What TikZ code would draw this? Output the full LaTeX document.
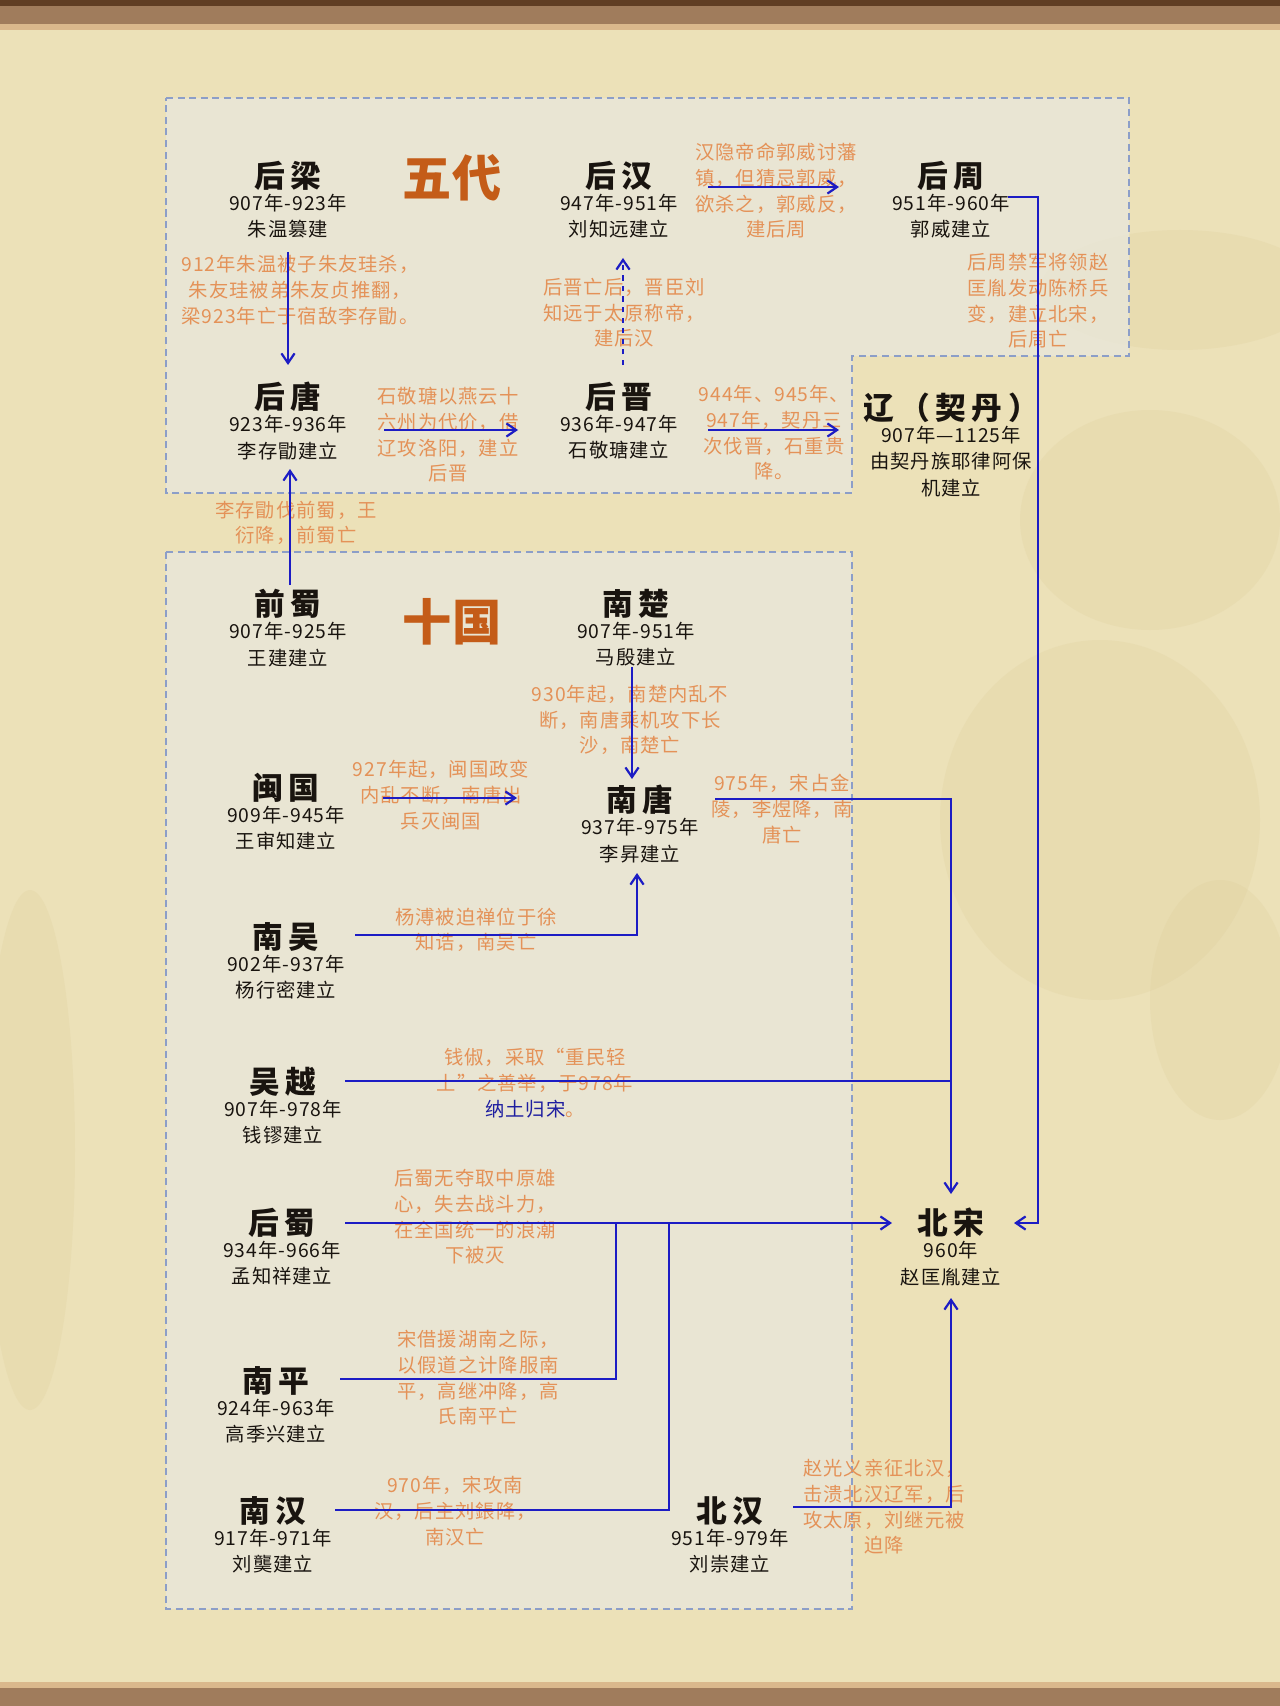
\documentclass[tikz,border=0pt]{standalone}
\usepackage{fontspec}
\setmainfont{Noto Sans CJK SC}
\usetikzlibrary{arrows.meta}
\definecolor{parchment}{RGB}{236,225,184}
\definecolor{parchmentdark}{RGB}{214,196,140}
\definecolor{wood}{RGB}{160,124,92}
\definecolor{wooddark}{RGB}{96,62,36}
\definecolor{woodlight}{RGB}{218,184,140}
\definecolor{panelfill}{RGB}{233,231,218}
\definecolor{dashblue}{RGB}{140,158,200}
\definecolor{titleorange}{RGB}{196,92,24}
\definecolor{noteorange}{RGB}{228,146,88}
\definecolor{inkblack}{RGB}{25,20,15}
\definecolor{lineblue}{RGB}{28,28,196}
\definecolor{songblue}{RGB}{30,30,160}
\tikzset{
  guo/.style={align=center,inner sep=0pt,text=inkblack,
    font=\fontsize{11}{15.2}\selectfont\addfontfeature{LetterSpace=5}},
  biaoti/.style={inner sep=0pt,text=titleorange,font=\fontsize{28}{28}\selectfont\bfseries},
  zhu/.style={align=center,inner sep=0pt,text=noteorange,
    font=\fontsize{11}{14.6}\selectfont\addfontfeature{LetterSpace=5}},
  xian/.style={draw=lineblue,line width=1.25pt},
  jian/.style={xian,-{Straight Barb[length=5.5pt,width=7.5pt]}},
  kuang/.style={draw=dashblue,line width=0.9pt,dash pattern=on 4pt off 2.6pt,
    fill=panelfill,fill opacity=0.8},
  fleck/.style={parchmentdark,opacity=0.16}
}
\newcommand{\ming}[1]{{\fontsize{17.5}{15.2}\selectfont\bfseries\addfontfeature{LetterSpace=18}#1}\\[-2.4pt]}

\begin{document}
\begin{tikzpicture}[x=0.02cm,y=-0.02cm]
  \useasboundingbox (0,0) rectangle (1280,1706);
  % paper and frame
  \fill[parchment] (0,0) rectangle (1280,1706);
  \fill[fleck] (1180,290) ellipse (140 and 60);
  \fill[fleck] (1150,520) ellipse (130 and 110);
  \fill[fleck] (1100,820) ellipse (160 and 180);
  \fill[fleck] (1220,1000) ellipse (70 and 120);
  \fill[fleck] (30,1150) ellipse (45 and 260);
  \fill[wooddark] (0,0) rectangle (1280,6);
  \fill[wood] (0,6) rectangle (1280,24);
  \fill[woodlight] (0,24) rectangle (1280,30);
  \fill[woodlight] (0,1682) rectangle (1280,1688);
  \fill[wood] (0,1688) rectangle (1280,1706);
  % the two panels
  \draw[kuang] (166,98) -- (1129,98) -- (1129,356) -- (852,356) -- (852,493) -- (166,493) -- cycle;
  \draw[kuang] (166,552) rectangle (852,1609);
  \node[biaoti] (wudai) at (452,178) {五代};
  \node[biaoti] (shiguo) at (452,622) {十国};
  % wu dai
  \node[guo] (houliang) at (288,200) {\ming{后梁}907年-923年\\朱温篡建};
  \node[guo] (houhan) at (619,200) {\ming{后汉}947年-951年\\刘知远建立};
  \node[guo] (houzhou) at (951,200) {\ming{后周}951年-960年\\郭威建立};
  \node[guo] (houtang) at (288,421) {\ming{后唐}923年-936年\\李存勖建立};
  \node[guo] (houjin) at (619,421) {\ming{后晋}936年-947年\\石敬瑭建立};
  \node[guo] (liao) at (951,445) {\ming{辽（契丹）}907年—1125年\\由契丹族耶律阿保\\机建立};
  % shi guo
  \node[guo] (qianshu) at (288,628) {\ming{前蜀}907年-925年\\王建建立};
  \node[guo] (nanchu) at (636,628) {\ming{南楚}907年-951年\\马殷建立};
  \node[guo] (minguo) at (286,812) {\ming{闽国}909年-945年\\王审知建立};
  \node[guo] (nantang) at (640,824) {\ming{南唐}937年-975年\\李昇建立};
  \node[guo] (nanwu) at (286,961) {\ming{南吴}902年-937年\\杨行密建立};
  \node[guo] (wuyue) at (283,1106) {\ming{吴越}907年-978年\\钱镠建立};
  \node[guo] (houshu) at (282,1247) {\ming{后蜀}934年-966年\\孟知祥建立};
  \node[guo] (nanping) at (276,1405) {\ming{南平}924年-963年\\高季兴建立};
  \node[guo] (nanhan) at (273,1535) {\ming{南汉}917年-971年\\刘龑建立};
  \node[guo] (beihan) at (730,1535) {\ming{北汉}951年-979年\\刘崇建立};
  \node[guo] (beisong) at (951,1247) {\ming{北宋}960年\\赵匡胤建立};
  % notes
  \node[zhu] (n1) at (300,290) {912年朱温被子朱友珪杀，\\朱友珪被弟朱友贞推翻，\\梁923年亡于宿敌李存勖。};
  \node[zhu] (n2) at (448,435) {石敬瑭以燕云十\\六州为代价，借\\辽攻洛阳，建立\\后晋};
  \node[zhu] (n3) at (624,313) {后晋亡后，晋臣刘\\知远于太原称帝，\\建后汉};
  \node[zhu] (n4) at (776,191) {汉隐帝命郭威讨藩\\镇，但猜忌郭威，\\欲杀之，郭威反，\\建后周};
  \node[zhu] (n5) at (774,433) {944年、945年、\\947年，契丹三\\次伐晋，石重贵\\降。};
  \node[zhu] (n6) at (1038,301) {后周禁军将领赵\\匡胤发动陈桥兵\\变，建立北宋，\\后周亡};
  \node[zhu] (n7) at (296,523) {李存勖伐前蜀，王\\衍降，前蜀亡};
  \node[zhu] (n8) at (630,720) {930年起，南楚内乱不\\断，南唐乘机攻下长\\沙，南楚亡};
  \node[zhu] (n9) at (441,795) {927年起，闽国政变\\内乱不断，南唐出\\兵灭闽国};
  \node[zhu] (n10) at (476,930) {杨溥被迫禅位于徐\\知诰，南吴亡};
  \node[zhu] (n11) at (782,809) {975年，宋占金\\陵，李煜降，南\\唐亡};
  \node[zhu] (n12) at (535,1083) {钱俶，采取“重民轻\\土”之善举，于978年\\{\color{songblue}纳土归宋}。};
  \node[zhu] (n13) at (475,1217) {后蜀无夺取中原雄\\心，失去战斗力，\\在全国统一的浪潮\\下被灭};
  \node[zhu] (n14) at (478,1378) {宋借援湖南之际，\\以假道之计降服南\\平，高继冲降，高\\氏南平亡};
  \node[zhu] (n15) at (455,1511) {970年，宋攻南\\汉，后主刘鋹降，\\南汉亡};
  \node[zhu] (n16) at (884,1507) {赵光义亲征北汉，\\击溃北汉辽军，后\\攻太原，刘继元被\\迫降};
  % junctions on the line to bei song
  \coordinate (wyout) at ([shift={(62,-25)}]wuyue.center);
  \coordinate (jnp) at (616,1223);
  \coordinate (jnh) at (669,1223);
  % connectors
  \draw[jian] ([shift={(0,13)}]houliang.south) -- ([shift={(0,-17)}]houtang.north);
  \draw[jian] ([shift={(96,9)}]houtang.center) -- ([shift={(-101,9)}]houjin.center);
  \draw[jian,dashed] ([shift={(4,-56)}]houjin.center) -- ([shift={(4,58)}]houhan.center);
  \draw[jian] ([shift={(89,-13)}]houhan.center) -- ([shift={(-112,-13)}]houzhou.center);
  \draw[jian] ([shift={(89,9)}]houjin.center) -- ([shift={(-112,-15)}]liao.center);
  \draw[jian] ([shift={(57,-3)}]houzhou.center) -- ++(30,0) |- ([shift={(63,-24)}]beisong.center);
  \draw[jian] ([shift={(2,-43)}]qianshu.center) -- ([shift={(2,48)}]houtang.center);
  \draw[jian] ([shift={(-4,39)}]nanchu.center) -- ([shift={(-8,-45)}]nantang.center);
  \draw[jian] ([shift={(97,-14)}]minguo.center) -- ([shift={(-123,-26)}]nantang.center);
  \draw[jian] ([shift={(69,-26)}]nanwu.center) -| ([shift={(-3,49)}]nantang.center);
  \draw[jian] ([shift={(75,-25)}]nantang.center) -| ([shift={(0,-53)}]beisong.center);
  \draw[xian] (wyout) -- (wyout -| beisong);
  \draw[jian] ([shift={(63,-24)}]houshu.center) -- ([shift={(-59,-24)}]beisong.center);
  \draw[xian] ([shift={(64,-26)}]nanping.center) -| (jnp);
  \draw[xian] ([shift={(62,-25)}]nanhan.center) -| (jnh);
  \draw[jian] ([shift={(63,-28)}]beihan.center) -| ([shift={(0,51)}]beisong.center);
\end{tikzpicture}
\end{document}
